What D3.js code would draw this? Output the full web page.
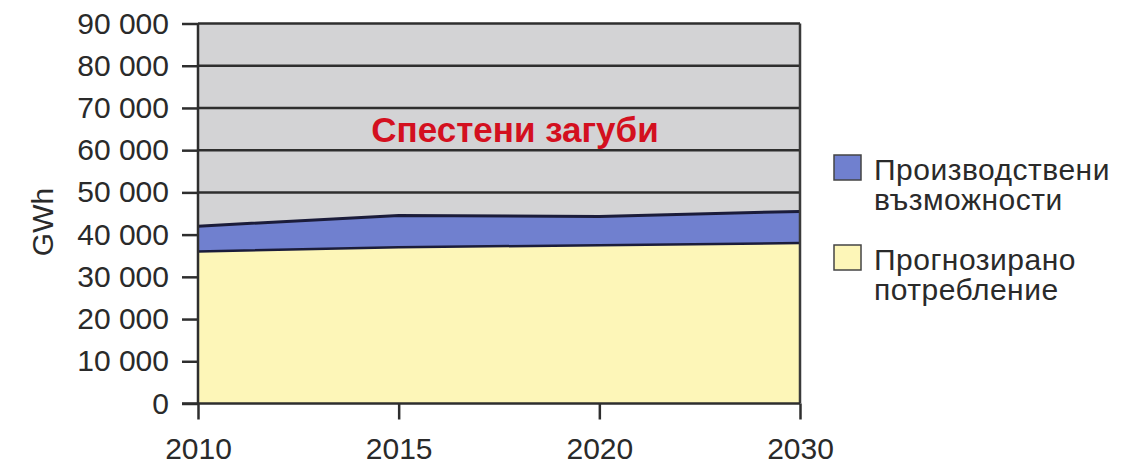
<!DOCTYPE html>
<html>
<head>
<meta charset="utf-8">
<script src="https://cdn.jsdelivr.net/npm/d3@7"></script>
<style>
  html, body { margin: 0; padding: 0; background: #fff; }
  svg { display: block; font-family: "Liberation Sans", Arial, sans-serif; }
</style>
</head>
<body>
<script>
// Years on the horizontal axis
const years = ["2010", "2015", "2020", "2030"];
// Forecast consumption, GWh
const consumption = [36000, 37000, 37500, 38000];
// Production capacity (upper edge of the blue band), GWh
const capacity = [42000, 44500, 44300, 45500];
// Vertical axis ticks
const yTicks = [0, 10000, 20000, 30000, 40000, 50000, 60000, 70000, 80000, 90000];
const yTitle = "GWh";
const savedLabel = "Спестени загуби";
const legendItems = [
  { lines: ["Производствени", "възможности"], color: "#7080cf" },
  { lines: ["Прогнозирано", "потребление"], color: "#fdf6b8" }
];

const W = 1146, H = 467;
const plotL = 198, plotR = 800, plotT = 23.5, plotB = 403.5;
const FONT = "'Liberation Sans', Arial, sans-serif";

const svg = d3.select("body").append("svg").attr("width", W).attr("height", H);

const x = d3.scalePoint().domain(years).range([plotL, plotR]);
const y = d3.scaleLinear().domain([0, 90000]).range([plotB, plotT]);

// Plot background (the saved-losses region)
svg.append("rect")
  .attr("x", plotL).attr("y", plotT)
  .attr("width", plotR - plotL).attr("height", plotB - plotT)
  .attr("fill", "#d3d3d5");

// Horizontal grid lines behind the areas
svg.append("g").selectAll("line").data(yTicks.filter(d => d > 0)).join("line")
  .attr("x1", plotL).attr("x2", plotR)
  .attr("y1", d => y(d)).attr("y2", d => y(d))
  .attr("stroke", "#2e2e2e").attr("stroke-width", 2.5);

const rows = years.map((yr, i) => ({ yr, c: consumption[i], p: capacity[i] }));

// Capacity band between consumption and capacity
svg.append("path").datum(rows)
  .attr("fill", "#7080cf")
  .attr("d", d3.area().x(d => x(d.yr)).y0(d => y(d.c)).y1(d => y(d.p)));

// Consumption area
svg.append("path").datum(rows)
  .attr("fill", "#fdf6b8")
  .attr("d", d3.area().x(d => x(d.yr)).y0(y(0)).y1(d => y(d.c)));

// Outlines of both areas
svg.append("path").datum(rows)
  .attr("fill", "none").attr("stroke", "#1b1c3a").attr("stroke-width", 3)
  .attr("d", d3.line().x(d => x(d.yr)).y(d => y(d.p)));
svg.append("path").datum(rows)
  .attr("fill", "none").attr("stroke", "#1b1c3a").attr("stroke-width", 2.5)
  .attr("d", d3.line().x(d => x(d.yr)).y(d => y(d.c)));

// Right border of the plot
svg.append("line")
  .attr("x1", plotR).attr("x2", plotR).attr("y1", plotT).attr("y2", plotB)
  .attr("stroke", "#3a3a3a").attr("stroke-width", 2.5);

// Y axis
const yAxis = svg.append("g")
  .attr("transform", `translate(${plotL},0)`)
  .call(d3.axisLeft(y).tickValues(yTicks).tickSize(16).tickPadding(13)
    .tickFormat(d => d3.format(",")(d).replace(/,/g, " ")));
yAxis.select(".domain").attr("stroke", "#2e2e2e").attr("stroke-width", 2.5)
  .attr("d", `M0,${plotT}V${plotB}`);
yAxis.selectAll(".tick line").attr("stroke", "#2e2e2e").attr("stroke-width", 2.5);
yAxis.selectAll(".tick text").attr("fill", "#2a2a2a").attr("font-size", 30)
  .attr("font-family", FONT);

// X axis
const xAxis = svg.append("g")
  .attr("transform", `translate(0,${plotB})`)
  .call(d3.axisBottom(x).tickSize(16).tickPadding(18));
xAxis.select(".domain").attr("stroke", "#2e2e2e").attr("stroke-width", 2.5)
  .attr("d", `M${plotL - 16},0H${plotR}`);
xAxis.selectAll(".tick line").attr("stroke", "#2e2e2e").attr("stroke-width", 2.5);
xAxis.selectAll(".tick text").attr("fill", "#2a2a2a").attr("font-size", 30)
  .attr("font-family", FONT);

// Y axis title
svg.append("text")
  .attr("transform", `translate(53,222) rotate(-90)`)
  .attr("text-anchor", "middle")
  .attr("font-size", 30).attr("fill", "#2a2a2a")
  .text(yTitle);

// Label inside the grey region
svg.append("text")
  .attr("x", 515).attr("y", 142)
  .attr("text-anchor", "middle")
  .attr("font-size", 35).attr("font-weight", "bold").attr("fill", "#d3101f")
  .text(savedLabel);

// Legend
const lg = svg.append("g").selectAll("g").data(legendItems).join("g")
  .attr("transform", (d, i) => `translate(834,${155 + i * 90})`);
lg.append("rect")
  .attr("width", 27).attr("height", 25)
  .attr("fill", d => d.color).attr("stroke", "#444").attr("stroke-width", 1.5);
lg.append("text")
  .attr("font-size", 30).attr("fill", "#2a2a2a").attr("letter-spacing", 0.5)
  .selectAll("tspan").data(d => d.lines).join("tspan")
  .attr("x", 40).attr("y", (d, i) => 25 + i * 30)
  .text(d => d);
</script>
</body>
</html>
